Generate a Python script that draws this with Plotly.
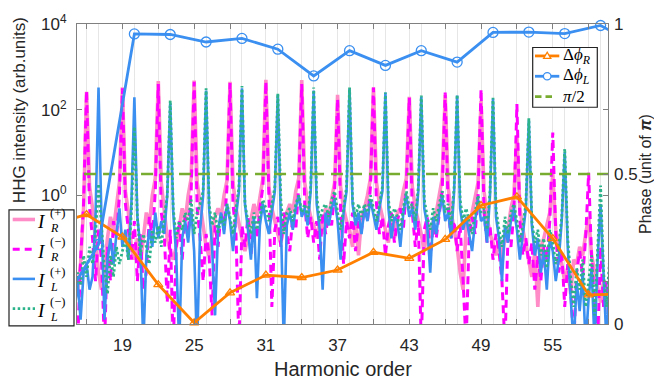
import numpy as np
import plotly.graph_objects as go

# ---------------- data ----------------
# spectrum sampling grid (harmonic order), 0.25 step
harmonic_grid = np.arange(15.0, 59.76, 0.25)

# log10 of HHG intensity, rows = harmonic n : [n, n+.25, n+.5, n+.75]
log_IR_plus = [
    -1.8, -2.2, -1.6, -0.3,   # 15
    2.42, 0.2, -0.3, -1.0,    # 16
    -1.8, -2.2, -1.7, -1.0,   # 17
    -0.5, -0.8, -0.2, 0.3,    # 18
    2.52, 0.1, -0.4, -1.2,    # 19
    -1.5, -1.0, -1.6, -0.9,   # 20
    -0.4, -0.7, 0.0, 0.4,     # 21
    2.67, 0.3, -0.3, -1.0,    # 22
    -1.3, -1.5, -1.2, -0.7,   # 23
    -0.3, -0.6, 0.0, 0.4,     # 24
    2.68, 0.3, -0.2, -0.8,    # 25
    -1.2, -1.4, -1.0, -0.5,   # 26
    -0.3, -0.5, 0.0, 0.35,    # 27
    2.65, 0.3, -0.3, -0.7,    # 28
    -1.0, -1.3, -0.9, -0.5,   # 29
    -0.2, -0.5, 0.0, 0.4,     # 30
    2.70, 0.2, -0.3, -0.6,    # 31
    -0.9, -1.1, -0.7, -0.4,   # 32
    -0.2, -0.4, 0.1, 0.4,     # 33
    2.69, 0.3, -0.2, -0.5,    # 34
    -0.7, -1.0, -0.6, -0.9,   # 35
    -0.3, -0.5, -0.1, 0.3,    # 36
    2.35, 0.2, -0.3, -0.6,    # 37
    -0.8, -1.2, -0.6, -1.4,   # 38
    -0.5, -0.3, 0.0, 0.4,     # 39
    2.52, 0.3, -0.2, -0.5,    # 40
    -0.8, -1.1, -0.6, -1.0,   # 41
    -0.4, -0.3, 0.1, 0.4,     # 42
    2.30, 0.2, -0.3, -0.6,    # 43
    -0.9, -1.3, -0.7, -1.0,   # 44
    -0.6, -0.4, 0.0, 0.4,     # 45
    2.35, 0.2, -0.4, -0.8,    # 46
    -1.2, -1.8, -2.2, -0.7,   # 47
    -0.7, -0.4, 0.0, 0.3,     # 48
    2.20, 0.1, -0.5, -0.9,    # 49
    -1.1, -1.4, -1.0, -1.6,   # 50
    -0.9, -0.8, -0.3, 0.0,    # 51
    1.40, -0.3, -0.8, -1.2,   # 52
    -1.5, -1.9, -1.3, -2.6,   # 53
    -1.2, -1.0, -0.7, -0.4,   # 54
    0.50, -0.8, -1.2, -1.6,   # 55
    -2.0, -1.7, -2.3, -1.5,   # 56
    -1.6, -1.2, -1.4, -0.9,   # 57
    -0.5, -1.4, -1.8, -2.2,   # 58
    -2.5, -2.0, -2.6, -2.8,   # 59
]

log_IR_minus = [
    -2.5, -3.5, -1.5, -0.2,   # 15
    2.44, -0.3, -1.0, -2.0,   # 16
    -0.8, -1.5, -3.5, -1.2,   # 17
    -2.0, -0.6, -1.0, 0.0,    # 18
    2.50, -0.2, -0.8, -1.5,   # 19
    -0.6, -2.0, -0.9, -2.2,   # 20
    -1.8, -0.5, -1.0, 0.1,    # 21
    2.60, -0.4, -0.9, -2.5,   # 22
    -0.8, -3.5, -1.2, -0.6,   # 23
    -1.5, -0.5, -0.9, 0.1,    # 24
    2.65, -0.3, -1.0, -2.0,   # 25
    -0.9, -1.4, -2.8, -0.7,   # 26
    -1.2, -0.4, -0.8, 0.2,    # 27
    2.62, -0.2, -0.9, -3.5,   # 28
    -0.7, -1.2, -0.5, -1.4,   # 29
    -0.6, -1.0, -0.3, 0.2,    # 30
    2.65, -0.3, -2.6, -0.8,   # 31
    -0.5, -1.2, -0.4, -0.9,   # 32
    -1.3, -0.5, -0.8, 0.2,    # 33
    2.60, -0.2, -1.0, -0.5,   # 34
    -1.1, -0.6, -1.5, -0.4,   # 35
    -0.9, -0.4, -0.7, 0.1,    # 36
    2.25, -0.3, -1.6, -0.6,   # 37
    -1.0, -0.4, -1.3, -0.6,   # 38
    -0.8, -0.3, -0.6, 0.2,    # 39
    2.52, -0.2, -0.9, -0.5,   # 40
    -1.4, -0.7, -0.4, -1.1,   # 41
    -0.6, -0.3, -0.8, 0.2,    # 42
    2.28, -0.4, -1.2, -0.6,   # 43
    -3.5, -0.8, -0.5, -1.5,   # 44
    -0.7, -1.0, -0.4, 0.1,    # 45
    2.40, -0.3, -1.0, -0.6,   # 46
    -1.3, -0.7, -2.0, -3.5,   # 47
    -1.0, -0.5, -0.9, 0.0,    # 48
    2.48, -0.4, -1.1, -0.7,   # 49
    -1.5, -0.9, -1.3, -2.0,   # 50
    -3.5, -1.0, -1.2, -0.4,   # 51
    2.13, -0.6, -1.4, -1.0,   # 52
    -1.6, -1.1, -2.2, -1.4,   # 53
    -2.0, -1.2, -1.5, -0.6,   # 54
    1.47, -0.9, -1.8, -1.3,   # 55
    -2.6, -1.6, -2.2, -3.5,   # 56
    -1.8, -1.3, -1.9, -1.0,   # 57
    0.53, -1.5, -2.5, -3.5,   # 58
    -1.2, -2.6, -2.0, -2.8,   # 59
]

log_IL_plus = [
    -2.7, -2.0, -2.9, -1.8,   # 15
    -1.6, -2.2, -1.9, -0.5,   # 16
    2.52, -0.6, -2.9, -1.5,   # 17
    -1.0, -1.6, -0.9, -0.3,   # 18
    -1.2, -0.8, -1.5, -0.2,   # 19
    2.29, -0.5, -1.2, -3.5,   # 20
    -1.4, -0.8, -1.2, -0.4,   # 21
    -1.0, -0.6, -0.9, 0.0,    # 22
    2.15, -0.4, -1.4, -3.5,   # 23
    -1.0, -0.6, -1.1, -0.3,   # 24
    -1.3, -3.5, -0.8, 0.0,    # 25
    2.45, -0.3, -1.2, -2.8,   # 26
    -0.8, -0.4, -0.9, -0.2,   # 27
    -0.6, -1.3, -0.5, 0.1,    # 28
    2.50, -0.2, -0.8, -1.5,   # 29
    -0.5, -2.4, -0.7, -0.2,   # 30
    -0.6, -0.9, -0.4, 0.1,    # 31
    2.35, -0.3, -3.5, -0.7,   # 32
    -0.4, -0.8, -0.3, 0.0,    # 33
    -0.5, -0.3, -0.7, 0.1,    # 34
    2.45, -0.2, -0.8, -2.2,   # 35
    -0.4, -0.7, -0.3, -0.1,   # 36
    -0.6, -1.5, -0.4, 0.1,    # 37
    2.48, -0.2, -0.7, -0.4,   # 38
    -0.9, -0.3, -0.6, -0.1,   # 39
    -0.5, -0.8, -0.3, 0.1,    # 40
    2.40, -0.3, -1.0, -0.5,   # 41
    -0.6, -1.2, -0.4, 0.0,    # 42
    -0.5, -0.3, -0.8, 0.1,    # 43
    2.30, -0.3, -0.7, -1.8,   # 44
    -0.5, -0.9, -0.4, 0.0,    # 45
    -0.6, -0.4, -1.0, 0.1,    # 46
    2.33, -0.3, -0.8, -0.5,   # 47
    -0.9, -1.3, -0.6, -0.1,   # 48
    -0.6, -0.5, -1.1, 0.0,    # 49
    2.25, -0.5, -1.0, -2.0,   # 50
    -0.7, -1.1, -0.6, -0.3,   # 51
    -0.8, -1.5, -0.9, -0.3,   # 52
    1.75, -0.7, -1.4, -1.0,   # 53
    -1.8, -1.3, -2.2, -1.0,   # 54
    -1.3, -2.0, -1.5, -0.6,   # 55
    1.00, -1.2, -2.4, -3.5,   # 56
    -2.0, -2.7, -1.8, -3.5,   # 57
    -2.4, -1.7, -3.5, -1.5,   # 58
    -0.2, -2.3, -3.5, -1.8,   # 59
]

log_IL_minus = [
    -2.4, -1.8, -2.1, -1.4,   # 15
    -1.9, -1.2, -1.6, -0.9,   # 16
    0.27, -0.8, -1.7, -2.3,   # 17
    -1.4, -1.9, -1.2, -1.6,   # 18
    -1.3, -1.0, -1.5, -0.4,   # 19
    1.60, -0.5, -1.4, -0.9,   # 20
    -1.2, -1.6, -0.8, -1.1,   # 21
    -0.7, -1.2, -0.5, 0.0,    # 22
    2.22, -0.3, -1.0, -0.6,   # 23
    -0.8, -0.4, -0.6, -0.1,   # 24
    -0.9, -0.4, -0.2, 0.1,    # 25
    2.50, -0.2, -0.7, -0.4,   # 26
    -0.9, -0.5, -0.7, -0.2,   # 27
    -0.5, -0.9, -0.3, 0.2,    # 28
    2.55, -0.2, -0.6, -0.9,   # 29
    -0.4, -0.8, -0.5, -0.1,   # 30
    -0.3, -0.6, -0.2, 0.2,    # 31
    2.38, -0.1, -0.9, -0.4,   # 32
    -0.3, -0.6, -0.2, 0.0,    # 33
    -0.4, -0.2, -0.5, 0.2,    # 34
    2.52, 0.0, -0.6, -0.3,    # 35
    -0.2, -0.5, -0.1, 0.1,    # 36
    -0.4, -0.8, -0.3, 0.2,    # 37
    2.52, -0.1, -0.5, -0.2,   # 38
    -0.5, -0.2, -0.4, 0.0,    # 39
    -0.3, -0.6, -0.2, 0.2,    # 40
    2.40, -0.1, -0.6, -0.3,   # 41
    -0.5, -0.8, -0.3, 0.1,    # 42
    -0.3, -0.2, -0.6, 0.2,    # 43
    2.33, -0.1, -0.5, -0.8,   # 44
    -0.3, -0.6, -0.2, 0.1,    # 45
    -0.4, -0.2, -0.7, 0.2,    # 46
    2.35, -0.1, -0.6, -0.3,   # 47
    -0.6, -0.9, -0.4, 0.0,    # 48
    -0.4, -0.3, -0.8, 0.1,    # 49
    2.28, -0.3, -0.8, -1.2,   # 50
    -0.5, -0.9, -0.4, -0.2,   # 51
    -0.6, -1.1, -0.7, -0.2,   # 52
    1.80, -0.6, -1.1, -0.8,   # 53
    -1.4, -1.0, -1.7, -0.8,   # 54
    -1.1, -1.6, -1.2, -0.5,   # 55
    1.09, -1.0, -1.9, -2.6,   # 56
    -1.7, -2.2, -1.5, -2.6,   # 57
    -2.0, -1.4, -2.8, -1.2,   # 58
    0.23, -1.8, -2.6, -1.5,   # 59
]

# phase differences (unit of pi)
phase_R_order = [13, 16, 19, 22, 25, 28, 31, 34, 37, 40, 43, 46, 49, 52, 55, 58, 61]
phase_R = [0.33, 0.365, 0.29, 0.131, 0.004, 0.104, 0.163, 0.155, 0.18, 0.239,
           0.219, 0.282, 0.395, 0.424, 0.285, 0.097, 0.10]
phase_L_order = [14, 17, 20, 23, 26, 29, 32, 35, 38, 41, 44, 47, 50, 53, 56, 59, 62]
phase_L = [0.065, 0.265, 0.967, 0.965, 0.94, 0.952, 0.916, 0.827, 0.911, 0.862,
           0.911, 0.873, 0.972, 0.973, 0.968, 0.995, 0.93]
half_pi = 0.5

x_tick_vals = [16, 19, 22, 25, 28, 31, 34, 37, 40, 43, 46, 49, 52, 55, 58]
x_tick_labels = ["", "19", "", "25", "", "31", "", "37", "", "43", "", "49", "", "55", ""]
x_grid_minor = [17, 20, 23, 26, 29, 32, 35, 38, 41, 44, 47, 50, 53, 56, 59]
y_tick_vals = [1e-2, 1e0, 1e2, 1e4]
y_tick_labels = ["", "10<sup>0</sup>", "10<sup>2</sup>", "10<sup>4</sup>"]
phase_tick_vals = [0, 0.5, 1]
phase_tick_labels = ["0", "0.5", "1"]

X_RANGE = [15.2, 59.62]

# ---------------- style ----------------
C_PINK = "#ff8cc6"
C_MAG = "#ff00ff"
C_BLUE = "#3a8ff0"
C_TEAL = "#2db38a"
C_ORANGE = "#ff8000"
C_GREEN = "#77ac30"
AX = "#808080"
TXT = "#262626"
SANS = "Liberation Sans, Arial, sans-serif"
SERIF = "Liberation Serif, Times New Roman, serif"

for arr in (log_IR_plus, log_IR_minus, log_IL_plus, log_IL_minus):
    assert len(arr) == len(harmonic_grid)

fig = go.Figure()

def spec(vals, color, width, dash):
    fig.add_trace(go.Scatter(x=harmonic_grid, y=10 ** np.array(vals), mode="lines",
                             line=dict(color=color, width=width, dash=dash),
                             hoverinfo="skip"))

spec(log_IR_plus, C_PINK, 3.6, "solid")
spec(log_IR_minus, C_MAG, 3.0, "8px,5px")
spec(log_IL_plus, C_BLUE, 2.6, "solid")
spec(log_IL_minus, C_TEAL, 2.8, "2.5px,2.5px")

# pi/2 reference line
fig.add_trace(go.Scatter(x=[X_RANGE[0] - 1, X_RANGE[1] + 1], y=[half_pi, half_pi], yaxis="y2",
                         mode="lines", line=dict(color=C_GREEN, width=2.6, dash="12px,7px")))

# phase lines
fig.add_trace(go.Scatter(x=phase_R_order, y=phase_R, yaxis="y2", mode="lines",
                         line=dict(color=C_ORANGE, width=2.8)))
fig.add_trace(go.Scatter(x=phase_L_order, y=phase_L, yaxis="y2", mode="lines",
                         line=dict(color=C_BLUE, width=2.8)))

def inside(orders, vals):
    xs = [o for o in orders if X_RANGE[0] <= o <= X_RANGE[1]]
    ys = [v for o, v in zip(orders, vals) if X_RANGE[0] <= o <= X_RANGE[1]]
    return xs, ys

xr, yr = inside(phase_R_order, phase_R)
fig.add_trace(go.Scatter(x=xr, y=yr, yaxis="y2", mode="markers", cliponaxis=False,
                         marker=dict(symbol="triangle-up-open", size=8, color=C_ORANGE,
                                     line=dict(width=1.3, color=C_ORANGE))))
xl, yl = inside(phase_L_order, phase_L)
fig.add_trace(go.Scatter(x=xl, y=yl, yaxis="y2", mode="markers", cliponaxis=False,
                         marker=dict(symbol="circle-open", size=10, color=C_BLUE,
                                     line=dict(width=1.3, color=C_BLUE))))

# ---------------- layout ----------------
PL, PR, PT, PB = 77, 608, 14, 324
W, H = 654, 388

def px(x):
    return (x - PL) / (PR - PL)

def py(y):
    return (PB - y) / (PB - PT)

fig.update_layout(
    width=W, height=H,
    margin=dict(l=PL, r=W - PR, t=PT, b=H - PB, pad=0),
    paper_bgcolor="white", plot_bgcolor="white", showlegend=False,
    xaxis=dict(range=X_RANGE, tickmode="array", tickvals=x_tick_vals, ticktext=x_tick_labels,
               ticks="inside", ticklen=5, tickwidth=1, tickcolor=AX,
               showline=True, linecolor=AX, linewidth=1, mirror="ticks",
               showgrid=True, gridcolor="#e6e6e6", gridwidth=1, zeroline=False,
               minor=dict(tickmode="array", tickvals=x_grid_minor, showgrid=True,
                          gridcolor="#e6e6e6", gridwidth=1, ticks=""),
               tickfont=dict(family=SANS, size=17, color=TXT), ticklabelstandoff=6),
    yaxis=dict(type="log", range=[-3, 4], tickmode="array", tickvals=y_tick_vals,
               ticktext=y_tick_labels, ticks="inside", ticklen=5, tickcolor=AX,
               showline=True, linecolor=AX, linewidth=1, mirror="ticks",
               showgrid=False, zeroline=False,
               tickfont=dict(family=SANS, size=17, color=TXT), ticklabelstandoff=6),
    yaxis2=dict(overlaying="y", side="right", range=[0, 1], tickmode="array",
                tickvals=phase_tick_vals, ticktext=phase_tick_labels,
                ticks="inside", ticklen=5, tickcolor=AX, showline=False,
                showgrid=False, zeroline=False,
                tickfont=dict(family=SANS, size=17, color=TXT), ticklabelstandoff=5),
)

shapes = []
annotations = []

# axis titles
annotations.append(dict(x=px(19), y=py(103), xref="paper", yref="paper",
                        text="HHG intensity (arb.units)", textangle=-90, showarrow=False,
                        xanchor="center", yanchor="middle",
                        font=dict(family=SANS, size=17, color=TXT)))
annotations.append(dict(x=px(645), y=py(169), xref="paper", yref="paper",
                        text="Phase (unit of <b><i>π</i></b>)", textangle=-90, showarrow=False,
                        xanchor="center", yanchor="middle",
                        font=dict(family=SANS, size=16, color=TXT)))
annotations.append(dict(x=px(343), y=py(370), xref="paper", yref="paper",
                        text="Harmonic order", showarrow=False,
                        xanchor="center", yanchor="middle",
                        font=dict(family=SANS, size=20, color=TXT)))

# ---- legend 1 (intensities), left ----
shapes.append(dict(type="rect", xref="paper", yref="paper", layer="above",
                   x0=px(9), x1=px(74), y0=py(206), y1=py(326),
                   fillcolor="white", line=dict(color="#222222", width=1.2)))
leg1 = [
    (C_PINK, 3.6, "solid", "(+)", "R"),
    (C_MAG, 3.0, "7px,5px", "(−)", "R"),
    (C_BLUE, 2.6, "solid", "(+)", "L"),
    (C_TEAL, 2.8, "2.5px,2.5px", "(−)", "L"),
]
row_top, row_step = 216.0, 30.7
for i, (col, w, dsh, sup, sub) in enumerate(leg1):
    ly = row_top + i * row_step
    ty = ly + 2.0
    shapes.append(dict(type="line", xref="paper", yref="paper", layer="above",
                       x0=px(12.7), x1=px(35), y0=py(ly), y1=py(ly),
                       line=dict(color=col, width=w, dash=dsh)))
    annotations.append(dict(x=px(41.5), y=py(ty), xref="paper", yref="paper",
                            text="<i>I</i>", showarrow=False, xanchor="center", yanchor="middle",
                            font=dict(family=SERIF, size=19, color="black")))
    annotations.append(dict(x=px(47.5), y=py(ty - 9.0), xref="paper", yref="paper",
                            text=sup, showarrow=False, xanchor="left", yanchor="middle",
                            font=dict(family=SERIF, size=12.5, color="black")))
    annotations.append(dict(x=px(47.5), y=py(ty + 6.5), xref="paper", yref="paper",
                            text="<i>%s</i>" % sub, showarrow=False, xanchor="left", yanchor="middle",
                            font=dict(family=SERIF, size=12, color="black")))

# ---- legend 2 (phases), right ----
shapes.append(dict(type="rect", xref="paper", yref="paper", layer="above",
                   x0=px(532.7), x1=px(597.3), y0=py(38.3), y1=py(100),
                   fillcolor="white", line=dict(color="#222222", width=1.2)))
leg2_y = [47.0, 68.0, 89.0]
# orange with triangle
shapes.append(dict(type="line", xref="paper", yref="paper", layer="above",
                   x0=px(535), x1=px(559.3), y0=py(leg2_y[0]), y1=py(leg2_y[0]),
                   line=dict(color=C_ORANGE, width=2.8)))
tx, ty0 = 547.2, leg2_y[0]
shapes.append(dict(type="path", xref="paper", yref="paper", layer="above",
                   path="M %f %f L %f %f L %f %f Z" % (px(tx - 3.6), py(ty0 + 2.6), px(tx + 3.6), py(ty0 + 2.6),
                                                       px(tx), py(ty0 - 3.8)),
                   fillcolor="white", line=dict(color=C_ORANGE, width=1.3)))
# blue with circle
shapes.append(dict(type="line", xref="paper", yref="paper", layer="above",
                   x0=px(535), x1=px(559.3), y0=py(leg2_y[1]), y1=py(leg2_y[1]),
                   line=dict(color=C_BLUE, width=2.8)))
shapes.append(dict(type="circle", xref="paper", yref="paper", layer="above",
                   x0=px(547.2 - 3.8), x1=px(547.2 + 3.8), y0=py(leg2_y[1] - 3.8), y1=py(leg2_y[1] + 3.8),
                   fillcolor="white", line=dict(color=C_BLUE, width=1.3)))
# green dashed
shapes.append(dict(type="line", xref="paper", yref="paper", layer="above",
                   x0=px(535), x1=px(552), y0=py(leg2_y[2]), y1=py(leg2_y[2]),
                   line=dict(color=C_GREEN, width=2.6, dash="6.5px,4px")))

leg2_text = ["Δ<i>ϕ</i><sub><i>R</i></sub>", "Δ<i>ϕ</i><sub><i>L</i></sub>", "<i>π</i>/2"]
for yy, t in zip(leg2_y, leg2_text):
    annotations.append(dict(x=px(560.5), y=py(yy), xref="paper", yref="paper",
                            text=t, showarrow=False, xanchor="left", yanchor="middle",
                            font=dict(family=SERIF, size=17, color="black")))

fig.update_layout(shapes=shapes, annotations=annotations)

fig.write_html("out.html")
